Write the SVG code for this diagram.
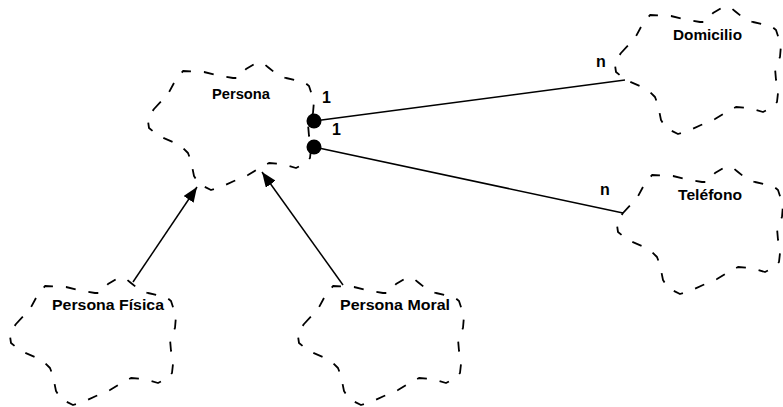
<svg xmlns="http://www.w3.org/2000/svg" xmlns:xlink="http://www.w3.org/1999/xlink" width="783" height="407" viewBox="0 0 783 407">
<style>
.cloud{fill:none;stroke:#000;stroke-width:1.8;stroke-dasharray:10 13;stroke-linejoin:round}
.lbl{font-family:"Liberation Sans",Arial,sans-serif;font-size:14px;font-weight:bold;fill:#000}
.num{font-family:"Liberation Sans",Arial,sans-serif;font-size:16px;font-weight:bold;fill:#000}
.conn{fill:none;stroke:#000;stroke-width:1.5}
</style>
<defs>
<path id="cloudShape" d="M6,46 L20,31 L26,20 L35,8 L56,9 L73,13 L85,15 L91,15 L98,6 L108,0 L115,0 L121,5 L131,13 L138,15 L156,19 L161,23 L166,38 L165,50 L160,61 L161,73 L163,86 L162,95 L158,100 L148,105 L135,101 L121,100 L110,106 L100,112 L86,118 L75,123 L63,127 L51,121 L46,113 L43,98 L40,90 L35,85 L25,79 L11,73 L1,65 L0,58 L1,53 Z"/>
<marker id="arrow" markerUnits="userSpaceOnUse" markerWidth="16" markerHeight="12" refX="15" refY="6" orient="auto">
<path d="M0,0 L15,6 L0,12 Z" fill="#000"/>
</marker>
</defs>
<g id="connectors">
<line class="conn" x1="314" y1="121" x2="625" y2="80"/>
<line class="conn" x1="314" y1="147" x2="623" y2="213"/>
<line class="conn" x1="133" y1="282" x2="197" y2="187" marker-end="url(#arrow)"/>
<line class="conn" x1="343" y1="285" x2="262" y2="172" marker-end="url(#arrow)"/>
<circle cx="314" cy="121" r="7.5" fill="#000"/>
<circle cx="314" cy="147" r="7.5" fill="#000"/>
<text class="num" x="322" y="103">1</text>
<text class="num" x="332" y="135">1</text>
<text class="num" x="596" y="67">n</text>
<text class="num" x="600" y="195">n</text>
</g>
<g id="persona">
<use xlink:href="#cloudShape" class="cloud" transform="translate(148,63)"/>
<text class="lbl" x="212" y="99" textLength="58" lengthAdjust="spacingAndGlyphs">Persona</text>
</g>
<g id="domicilio">
<use xlink:href="#cloudShape" class="cloud" transform="translate(615,7)"/>
<text class="lbl" x="673" y="40" textLength="69" lengthAdjust="spacingAndGlyphs">Domicilio</text>
</g>
<g id="telefono">
<use xlink:href="#cloudShape" class="cloud" transform="translate(617,167)"/>
<text class="lbl" x="678" y="200" textLength="64" lengthAdjust="spacingAndGlyphs">Teléfono</text>
</g>
<g id="persona-fisica">
<use xlink:href="#cloudShape" class="cloud" transform="translate(10,278)"/>
<text class="lbl" x="52" y="310" textLength="112" lengthAdjust="spacingAndGlyphs">Persona Física</text>
</g>
<g id="persona-moral">
<use xlink:href="#cloudShape" class="cloud" transform="translate(298,278)"/>
<text class="lbl" x="340" y="310" textLength="110" lengthAdjust="spacingAndGlyphs">Persona Moral</text>
</g>
</svg>
